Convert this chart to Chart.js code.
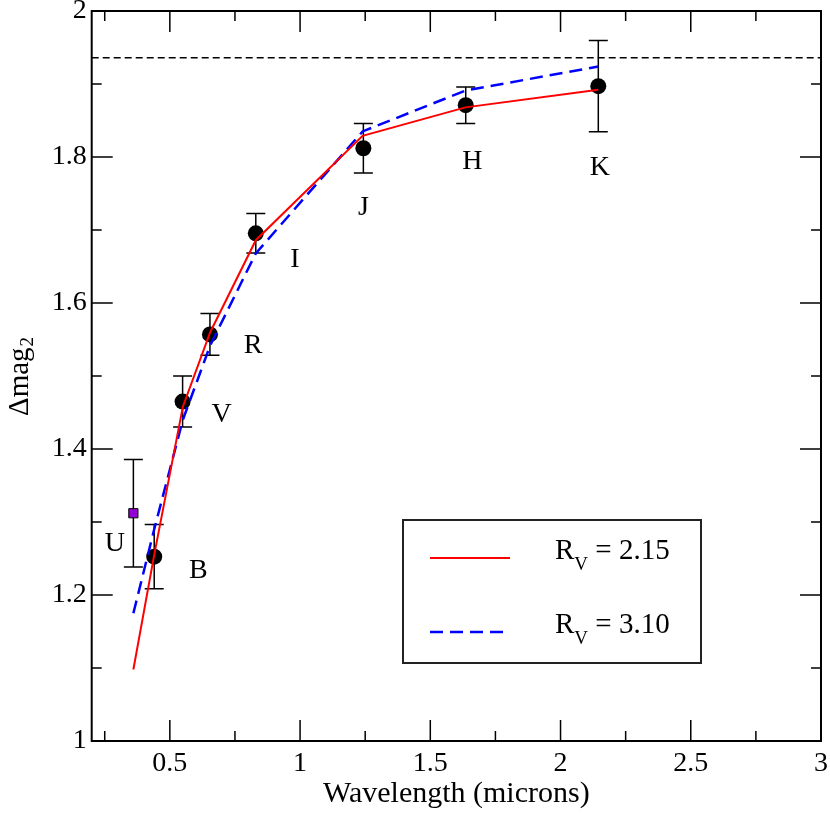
<!DOCTYPE html>
<html><head><meta charset="utf-8">
<script src="https://cdn.jsdelivr.net/npm/chart.js@4.4.0/dist/chart.umd.min.js"></script>
<style>html,body{margin:0;padding:0;background:#fff}canvas{display:block}</style>
</head><body>
<canvas id="c" width="830" height="813"></canvas>
<script>
// ---- data ----
const modelWave = [0.36, 0.44, 0.55, 0.655, 0.83, 1.24, 1.635, 2.145];
const modelRv215 = [1.098, 1.255, 1.458, 1.560, 1.686, 1.829, 1.868, 1.892];
const modelRv310 = [1.175, 1.290, 1.440, 1.542, 1.668, 1.835, 1.891, 1.924];

const obsBands = ['B', 'V', 'R', 'I', 'J', 'H', 'K'];
const obsWave = [0.44, 0.549, 0.654, 0.83, 1.243, 1.636, 2.145];
const obsMag = [1.2525, 1.465, 1.557, 1.6955, 1.812, 1.871, 1.897];
const obsErr = [0.044, 0.035, 0.0285, 0.027, 0.034, 0.025, 0.0625];

const uWave = [0.36];
const uMag = [1.312];
const uErr = [0.0737];

const refLevel = 1.936;

const bandLabels = ['U', 'B', 'V', 'R', 'I', 'J', 'H', 'K'];
const bandLabelX = [0.289, 0.609, 0.699, 0.820, 0.980, 1.243, 1.661, 2.151];
const bandLabelY = [1.271, 1.233, 1.447, 1.5415, 1.659, 1.730, 1.793, 1.785];

const xMajor = [0.5, 1, 1.5, 2, 2.5, 3];
const xTickLabels = ['0.5', '1', '1.5', '2', '2.5', '3'];
const xMinor = [0.25, 0.75, 1.25, 1.75, 2.25, 2.75];
const yMajor = [1, 1.2, 1.4, 1.6, 1.8, 2];
const yTickLabels = ['1', '1.2', '1.4', '1.6', '1.8', '2'];
const yMinor = [1.1, 1.3, 1.5, 1.7, 1.9];

const legendItems = [
  { main: 'R', sub: 'V', rest: ' = 2.15', color: '#ff0000', dash: [] },
  { main: 'R', sub: 'V', rest: ' = 3.10', color: '#0000ff', dash: [13, 7] }
];

const FONT = "'Liberation Serif', 'Times New Roman', serif";

const toPts = (xs, ys) => xs.map((x, i) => ({ x: x, y: ys[i] }));

const framePlugin = {
  id: 'frame',
  beforeDatasetsDraw(chart) {
    const { ctx, chartArea: a, scales: { x, y } } = chart;
    ctx.save();
    ctx.strokeStyle = '#000';
    ctx.lineWidth = 1.5;
    ctx.beginPath();
    const tick = (v, len, horiz) => {
      if (horiz) {
        const px = x.getPixelForValue(v);
        ctx.moveTo(px, a.bottom); ctx.lineTo(px, a.bottom - len);
        ctx.moveTo(px, a.top); ctx.lineTo(px, a.top + len);
      } else {
        const py = y.getPixelForValue(v);
        ctx.moveTo(a.left, py); ctx.lineTo(a.left + len, py);
        ctx.moveTo(a.right, py); ctx.lineTo(a.right - len, py);
      }
    };
    xMajor.forEach(v => tick(v, 21, true));
    xMinor.forEach(v => tick(v, 10, true));
    yMajor.forEach(v => tick(v, 21, false));
    yMinor.forEach(v => tick(v, 10, false));
    ctx.stroke();
    // error bars
    ctx.lineWidth = 1.5;
    const errbar = (wx, m, e) => {
      const px = x.getPixelForValue(wx);
      const t = y.getPixelForValue(m + e), b = y.getPixelForValue(m - e);
      ctx.beginPath();
      ctx.moveTo(px, t); ctx.lineTo(px, b);
      ctx.moveTo(px - 9.5, t); ctx.lineTo(px + 9.5, t);
      ctx.moveTo(px - 9.5, b); ctx.lineTo(px + 9.5, b);
      ctx.stroke();
    };
    obsWave.forEach((w, i) => errbar(w, obsMag[i], obsErr[i]));
    uWave.forEach((w, i) => errbar(w, uMag[i], uErr[i]));
    ctx.restore();
  },
  afterDraw(chart) {
    const { ctx, chartArea: a, scales: { x, y } } = chart;
    ctx.save();
    ctx.strokeStyle = '#000';
    ctx.lineWidth = 2;
    ctx.strokeRect(a.left, a.top, a.right - a.left, a.bottom - a.top);
    // band labels
    ctx.fillStyle = '#000';
    ctx.font = '28px ' + FONT;
    ctx.textAlign = 'center';
    ctx.textBaseline = 'middle';
    bandLabels.forEach((t, i) => {
      ctx.fillText(t, x.getPixelForValue(bandLabelX[i]), y.getPixelForValue(bandLabelY[i]));
    });
    // y title
    ctx.save();
    ctx.translate(28, 416);
    ctx.rotate(-Math.PI / 2);
    ctx.textAlign = 'left';
    ctx.textBaseline = 'alphabetic';
    ctx.font = '29px ' + FONT;
    ctx.fillText('\u0394mag', 0, 0);
    const w = ctx.measureText('\u0394mag').width;
    ctx.font = '19px ' + FONT;
    ctx.fillText('2', w + 1, 5);
    ctx.restore();
    // legend
    const L = 403, T = 520, R = 701, B = 663;
    ctx.fillStyle = '#fff';
    ctx.fillRect(L, T, R - L, B - T);
    ctx.lineWidth = 2;
    ctx.strokeStyle = '#222';
    ctx.strokeRect(L, T, R - L, B - T);
    legendItems.forEach((it, i) => {
      const ly = 558 + i * 74;
      ctx.strokeStyle = it.color;
      ctx.lineWidth = it.dash.length ? 2.5 : 2;
      ctx.setLineDash(it.dash);
      ctx.beginPath();
      ctx.moveTo(430, ly); ctx.lineTo(510, ly);
      ctx.stroke();
      ctx.setLineDash([]);
      ctx.fillStyle = '#000';
      ctx.textAlign = 'left';
      ctx.textBaseline = 'alphabetic';
      ctx.font = '29px ' + FONT;
      let tx = 555;
      const by = ly + 1;
      ctx.fillText(it.main, tx, by);
      tx += ctx.measureText(it.main).width;
      ctx.font = '19px ' + FONT;
      ctx.fillText(it.sub, tx, by + 11);
      tx += ctx.measureText(it.sub).width;
      ctx.font = '29px ' + FONT;
      ctx.fillText(it.rest, tx, by);
    });
    ctx.restore();
  }
};

new Chart(document.getElementById('c'), {
  type: 'scatter',
  data: {
    datasets: [
      { data: [{ x: 0.2, y: refLevel }, { x: 3, y: refLevel }], showLine: true, borderColor: '#000',
        borderWidth: 1.5, borderDash: [7, 4], pointRadius: 0, fill: false },
      { data: toPts(modelWave, modelRv215), showLine: true, borderColor: '#ff0000', borderWidth: 2,
        pointRadius: 0, fill: false, tension: 0 },
      { data: toPts(modelWave, modelRv310), showLine: true, borderColor: '#0000ff', borderWidth: 2.5,
        borderDash: [13, 7], pointRadius: 0, fill: false, tension: 0 },
      { data: toPts(obsWave, obsMag), showLine: false, pointRadius: 8, pointBackgroundColor: '#000',
        pointBorderColor: '#000', pointBorderWidth: 0 },
      { data: toPts(uWave, uMag), showLine: false, pointStyle: 'rect', pointRadius: 6.5,
        pointBackgroundColor: '#9400d3', pointBorderColor: '#000', pointBorderWidth: 1 }
    ]
  },
  options: {
    responsive: false,
    animation: false,
    devicePixelRatio: 1,
    layout: { padding: { top: 11, right: 9, left: 0, bottom: 0 } },
    plugins: { legend: { display: false }, tooltip: { enabled: false } },
    scales: {
      x: {
        type: 'linear', min: 0.2, max: 3,
        afterBuildTicks: s => { s.ticks = xMajor.map(v => ({ value: v })); },
        grid: { display: false, drawTicks: false },
        border: { display: false },
        ticks: { color: '#000', font: { family: FONT, size: 28 }, padding: 6, maxRotation: 0, autoSkip: false,
                 callback: (v, i) => xTickLabels[i] },
        title: { display: true, text: 'Wavelength (microns)', color: '#000',
                 font: { family: FONT, size: 30 }, padding: { top: 2, bottom: 1 } },
        afterFit: s => { s.height = 72; s.paddingLeft = 0; s.paddingRight = 0; }
      },
      y: {
        type: 'linear', min: 1, max: 2,
        afterBuildTicks: s => { s.ticks = yMajor.map(v => ({ value: v })); },
        grid: { display: false, drawTicks: false },
        border: { display: false },
        ticks: { color: '#000', font: { family: FONT, size: 28 }, padding: 5,
                 callback: (v, i) => yTickLabels[i] },
        afterFit: s => { s.width = 91.7; s.paddingTop = 0; s.paddingBottom = 0; }
      }
    }
  },
  plugins: [framePlugin]
});
</script>
</body></html>
